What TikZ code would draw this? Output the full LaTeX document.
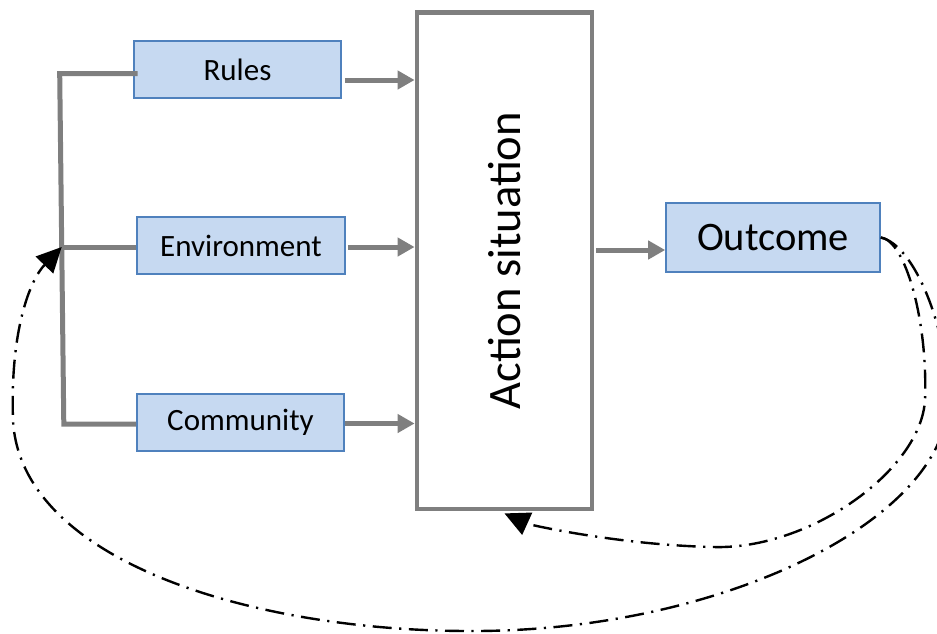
\documentclass[tikz,border=0pt]{standalone}
\usepackage{fontspec}
\setmainfont{Carlito}
\usetikzlibrary{arrows.meta}
\definecolor{boxfill}{HTML}{C6D9F1}
\definecolor{boxline}{HTML}{4F81BD}
\definecolor{lgray}{HTML}{7F7F7F}
\begin{document}
\begin{tikzpicture}[x=1pt,y=-1pt,
  inbox/.style={draw=boxline, line width=1.6pt, fill=boxfill, inner sep=0pt,
    minimum width=207pt, minimum height=57pt, font=\fontsize{31}{37}\selectfont},
  actbox/.style={draw=lgray, line width=4.8pt, fill=white, inner sep=0pt,
    minimum width=175pt, minimum height=496.5pt},
  garrow/.style={draw=lgray, line width=5pt, -{Triangle[length=17pt,width=18pt]}},
  gline/.style={draw=lgray, line width=5pt, line join=miter},
  fb/.style={draw=black, line width=2.4pt,
    dash pattern=on 19pt off 7.5pt on 2.2pt off 7.5pt,
    -{Triangle[length=25pt,width=24pt]}}
]
\useasboundingbox (0,0) rectangle (937,633);

\node[inbox] (rules) at (237.5,69.5) {Rules};
\node[inbox, minimum width=208pt] (env) at (241,245.5) {Environment};
\node[inbox] (comm) at (240.5,422.5) {Community};
\node[actbox] (act) at (504.5,260.75) {};
\node[rotate=90, font=\fontsize{46.5}{54}\selectfont] (acttext) at (act.center) {Action situation};
\node[inbox, minimum width=214pt, minimum height=69pt, font=\fontsize{40.5}{48}\selectfont] (outcome) at (773,237.5) {Outcome};

% bracket
\coordinate (bt) at (59.7,73.7);
\coordinate (bb) at (63.8,424);
\coordinate (bm) at (61.7,247);
\draw[gline] ([xshift=4.5pt,yshift=-4.2pt]rules.west) -- (bt) -- (bb) -- ([yshift=-1.5pt]comm.west);
\draw[gline] (bm) -- ([yshift=-1.5pt]env.west);

% inputs into the action situation
\coordinate (ra) at ([xshift=3pt,yshift=-10.5pt]rules.east);
\coordinate (ea) at ([xshift=2pt,yshift=-1.5pt]env.east);
\coordinate (ca) at ([yshift=-1pt]comm.east);
\draw[garrow] (ra) -- (ra -| act.west);
\draw[garrow] (ea) -- (ea -| act.west);
\draw[garrow] (ca) -- (ca -| act.west);

% action -> outcome
\coordinate (oa) at ([yshift=-12.5pt]outcome.west);
\draw[garrow] ([xshift=2pt]oa -| act.east) -- (oa);

% feedback loops
\draw[fb] (outcome.east) .. controls (905,240) and (928,320) .. (925,400)
  .. controls (921,470) and (810,550) .. (713,547)
  .. controls (620,545) and (530,525) .. ([yshift=-2pt]act.south);
\draw[fb] (outcome.east) .. controls (915,245) and (948,330) .. (948,400)
  .. controls (948,520) and (720,632) .. (470,631)
  .. controls (250,631) and (20,560) .. (13,420)
  .. controls (10,330) and (30,280) .. (bm);
\end{tikzpicture}
\end{document}
